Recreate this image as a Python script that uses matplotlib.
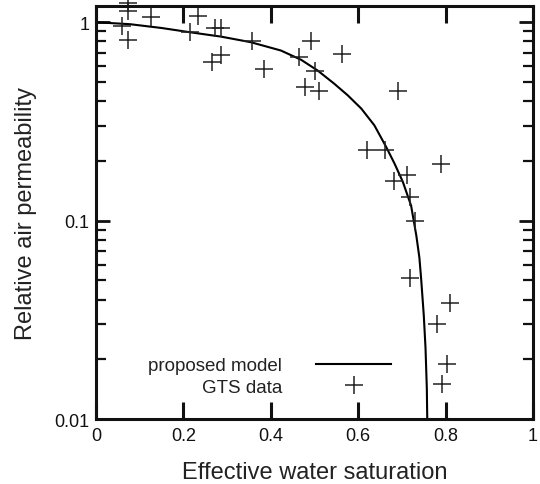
import matplotlib
matplotlib.use("Agg")
import matplotlib.pyplot as plt
from matplotlib.ticker import FixedLocator, LogLocator, NullFormatter

plt.rcParams['font.family'] = ['Liberation Sans', 'DejaVu Sans']

# GTS data points
sat = [0.074, 0.074, 0.060, 0.073, 0.126, 0.233, 0.214, 0.271, 0.286,
       0.266, 0.285, 0.357, 0.384, 0.491, 0.465, 0.501, 0.479, 0.510,
       0.562, 0.692, 0.619, 0.661, 0.790, 0.711, 0.683, 0.718, 0.730,
       0.718, 0.810, 0.780, 0.803, 0.791]
kra = [1.25, 1.14, 0.955, 0.817, 1.06, 1.08, 0.89, 0.93, 0.93,
       0.63, 0.68, 0.806, 0.580, 0.806, 0.671, 0.569, 0.474, 0.452,
       0.691, 0.452, 0.228, 0.228, 0.193, 0.170, 0.158, 0.132, 0.100,
       0.0515, 0.0383, 0.030, 0.019, 0.015]

# proposed model curve, sampled off the figure
model_s = [0.0, 0.078, 0.15, 0.215, 0.286, 0.354, 0.423, 0.469, 0.507,
           0.545, 0.576, 0.607, 0.637, 0.664, 0.683, 0.702, 0.721, 0.733,
           0.740, 0.744, 0.750, 0.754, 0.757, 0.758]
model_k = [1.0, 0.977, 0.935, 0.89, 0.846, 0.793, 0.720, 0.647, 0.571,
           0.490, 0.428, 0.367, 0.302, 0.235, 0.194, 0.157, 0.119, 0.084,
           0.065, 0.0509, 0.0334, 0.0228, 0.0143, 0.01]

fig = plt.figure(figsize=(5.4, 4.85), dpi=100)
ax = fig.add_axes([0.178, 0.134, 0.809, 0.852])

ax.plot(model_s, model_k, color='black', lw=1.5, label='proposed model')
ax.plot(sat, kra, ls='none', marker='+', ms=13, mew=1.1, color='#222222',
        label='GTS data', clip_on=False)

ax.set_yscale('log')
ax.set_xlim(0, 1)
ax.set_ylim(0.01, 1.21)

ax.xaxis.set_major_locator(FixedLocator([0, 0.2, 0.4, 0.6, 0.8, 1]))
ax.set_xticklabels(['0', '0.2', '0.4', '0.6', '0.8', '1'])
ax.yaxis.set_major_locator(FixedLocator([0.01, 0.1, 1]))
ax.set_yticklabels(['0.01', '0.1', '1'])
ax.yaxis.set_minor_locator(LogLocator(base=10, subs=range(2, 10)))
ax.yaxis.set_minor_formatter(NullFormatter())

for s in ax.spines.values():
    s.set_linewidth(2.2)
    s.set_color('#111111')

ax.tick_params(axis='x', which='major', direction='in', length=12, width=2.2,
               top=True, labelsize=13, pad=6, colors='#111111')
ax.tick_params(axis='y', which='major', direction='in', length=10, width=2,
               right=True, labelsize=13, pad=5, colors='#111111')
ax.tick_params(axis='y', which='minor', direction='in', length=7, width=1.6,
               right=True, colors='#111111')

ax.set_xlabel('Effective water saturation', fontsize=17, labelpad=12,
              color='#222222')
ax.set_ylabel('Relative air permeability', fontsize=17, labelpad=12,
              color='#222222')

leg = ax.legend(loc='upper right', bbox_to_anchor=(0.675, 0.15),
                markerfirst=False, frameon=False, fontsize=13.5,
                handlelength=4.0, handletextpad=1.8, labelspacing=0.25,
                borderpad=0, borderaxespad=0, numpoints=1)
for t in leg.get_texts():
    t.set_color('#222222')

fig.savefig('out.png', dpi=100)
